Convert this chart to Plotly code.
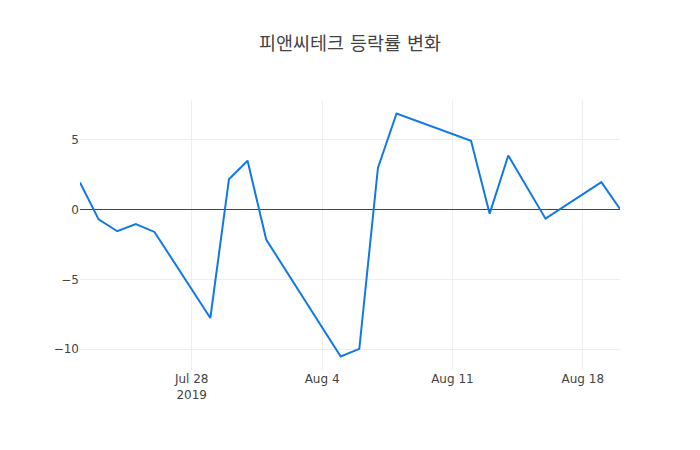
import plotly.graph_objects as go

# 피앤씨테크 일별 등락률 (%)
dates = [
    "2019-07-22", "2019-07-23", "2019-07-24", "2019-07-25", "2019-07-26",
    "2019-07-29", "2019-07-30", "2019-07-31", "2019-08-01",
    "2019-08-05", "2019-08-06", "2019-08-07", "2019-08-08",
    "2019-08-12", "2019-08-13", "2019-08-14", "2019-08-16",
    "2019-08-19", "2019-08-20",
]
change_pct = [
    1.95, -0.70, -1.55, -1.03, -1.60,
    -7.77, 2.18, 3.50, -2.15,
    -10.53, -9.98, 2.99, 6.89,
    4.93, -0.29, 3.88, -0.65,
    1.97, 0.04,
]

title = "피앤씨테크 등락률 변화"
font_family = "Verdana, DejaVu Sans, Noto Sans CJK KR, sans-serif"

fig = go.Figure()
fig.add_trace(go.Scatter(
    x=dates, y=change_pct,
    mode="lines",
    line=dict(color="rgb(17,121,230)", width=2),
))

# 페이지 여백(8px)만큼 보정한 마진
fig.update_layout(
    width=700, height=450,
    title=dict(text=title, x=0.4886, xanchor="center", y=0.936,
               font=dict(size=18.5, color="#444")),
    font=dict(family=font_family, size=12, color="#444"),
    paper_bgcolor="white", plot_bgcolor="white",
    margin=dict(l=72, r=88, t=92, b=88),
    showlegend=False,
)
fig.update_xaxes(showgrid=True, gridcolor="#eee", zeroline=False, showline=False)
fig.update_yaxes(showgrid=True, gridcolor="#eee", zeroline=True,
                 zerolinecolor="#444", zerolinewidth=1, showline=False)

fig.write_html("out.html")
